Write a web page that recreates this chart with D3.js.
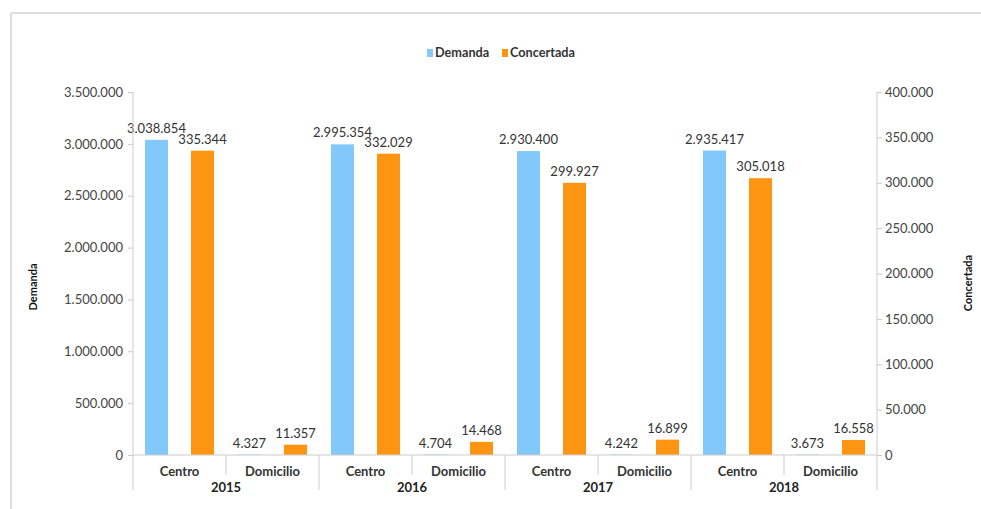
<!DOCTYPE html>
<html><head><meta charset="utf-8">
<script src="https://cdn.jsdelivr.net/npm/d3@7"></script>
<style>
body{margin:0;background:#fff;font-family:Lato, "Open Sans", sans-serif;}
svg{display:block;}
</style></head>
<body><svg id="c" width="981" height="509"></svg>
<script>
const years = ["2015","2016","2017","2018"];
const places = ["Centro","Domicilio"];
const seriesNames = ["Demanda","Concertada"];
const demandaCentro = [3038854, 2995354, 2930400, 2935417];
const demandaDomicilio = [4327, 4704, 4242, 3673];
const concertadaCentro = [335344, 332029, 299927, 305018];
const concertadaDomicilio = [11357, 14468, 16899, 16558];
const leftTicks = [0,500000,1000000,1500000,2000000,2500000,3000000,3500000];
const rightTicks = [0,50000,100000,150000,200000,250000,300000,350000,400000];
const colors = {Demanda:"#82C8FA", Concertada:"#FD9512"};

const fmt = v => d3.format(",")(v).replace(/,/g,".");
const svg = d3.select("#c");
const L = 133, R = 877, T = 92, B = 455, AX_BOTTOM = 490;

// frame
svg.append("line").attr("x1",11).attr("x2",981).attr("y1",13).attr("y2",13).attr("stroke","#dedede").attr("stroke-width",2);
svg.append("line").attr("x1",11).attr("x2",11).attr("y1",13).attr("y2",509).attr("stroke","#dedede").attr("stroke-width",2);

const yL = d3.scaleLinear().domain([0,3500000]).range([B,T]);
const yR = d3.scaleLinear().domain([0,400000]).range([B,T]);
const x0 = d3.scaleBand().domain(years).range([L,R]);
const x1 = d3.scaleBand().domain(places).range([0,x0.bandwidth()]);
const x2 = d3.scaleBand().domain(seriesNames).range([0,x1.bandwidth()]).paddingInner(0.5).paddingOuter(0.26);

const rows = [];
years.forEach((y,i)=>{
  rows.push({year:y, place:"Centro", s:"Demanda", v:demandaCentro[i]});
  rows.push({year:y, place:"Centro", s:"Concertada", v:concertadaCentro[i]});
  rows.push({year:y, place:"Domicilio", s:"Demanda", v:demandaDomicilio[i]});
  rows.push({year:y, place:"Domicilio", s:"Concertada", v:concertadaDomicilio[i]});
});
const yOf = d => d.s==="Demanda" ? yL : yR;
const bx = d => x0(d.year)+x1(d.place)+x2(d.s);

svg.append("g").selectAll("rect").data(rows).join("rect")
  .attr("x", bx).attr("width", x2.bandwidth())
  .attr("y", d=>yOf(d)(d.v)).attr("height", d=>B-yOf(d)(d.v))
  .attr("fill", d=>colors[d.s]);

svg.append("g").selectAll("text").data(rows).join("text")
  .attr("x", d=>bx(d)+x2.bandwidth()/2).attr("y", d=>yOf(d)(d.v)-7)
  .attr("text-anchor","middle").attr("font-size",13).attr("fill","#333")
  .text(d=>fmt(d.v));

// axes
const gl = svg.append("g").attr("transform",`translate(${L},0)`)
  .call(d3.axisLeft(yL).tickValues(leftTicks).tickFormat(fmt).tickSize(5).tickSizeOuter(0));
const gr = svg.append("g").attr("transform",`translate(${R},0)`)
  .call(d3.axisRight(yR).tickValues(rightTicks).tickFormat(fmt).tickSize(5).tickSizeOuter(0));
[gl,gr].forEach(g=>{
  g.select(".domain").remove();
  g.selectAll(".tick line").attr("stroke","#c8c8c8");
  g.selectAll(".tick text").attr("font-size",13).attr("fill","#444").attr("font-family","Lato, sans-serif");
});
gl.selectAll(".tick text").attr("x",-10);
gr.selectAll(".tick text").attr("x",8);

const axisColor = "#cccccc";
svg.append("line").attr("x1",L).attr("x2",L).attr("y1",T).attr("y2",AX_BOTTOM).attr("stroke",axisColor);
svg.append("line").attr("x1",R).attr("x2",R).attr("y1",T).attr("y2",AX_BOTTOM).attr("stroke",axisColor);
svg.append("line").attr("x1",L).attr("x2",R).attr("y1",B).attr("y2",B).attr("stroke",axisColor);

// category separators and labels
years.forEach((y,i)=>{
  if(i>0) svg.append("line").attr("x1",x0(y)).attr("x2",x0(y)).attr("y1",B).attr("y2",AX_BOTTOM).attr("stroke",axisColor);
  svg.append("line").attr("x1",x0(y)+x1("Domicilio")).attr("x2",x0(y)+x1("Domicilio")).attr("y1",B).attr("y2",475).attr("stroke",axisColor);
  places.forEach(p=>{
    svg.append("text").attr("x",x0(y)+x1(p)+x1.bandwidth()/2).attr("y",476)
      .attr("text-anchor","middle").attr("font-size",13).attr("font-weight","bold").attr("fill","#333").text(p);
  });
  svg.append("text").attr("x",x0(y)+x0.bandwidth()/2).attr("y",492)
    .attr("text-anchor","middle").attr("font-size",13).attr("font-weight","bold").attr("fill","#222").text(y);
});

// axis titles
svg.append("text").attr("transform","translate(37,287) rotate(-90)").attr("text-anchor","middle")
  .attr("font-size",11).attr("font-weight","bold").attr("fill","#111").text("Demanda");
svg.append("text").attr("transform","translate(972,283) rotate(-90)").attr("text-anchor","middle")
  .attr("font-size",11).attr("font-weight","bold").attr("fill","#111").text("Concertada");

// legend
const lg = svg.append("g");
const legX = [427, 502];
seriesNames.forEach((s,i)=>{
  lg.append("rect").attr("x",legX[i]).attr("y",49).attr("width",6).attr("height",8).attr("fill",colors[s]);
  lg.append("text").attr("x",legX[i]+8).attr("y",57).attr("font-size",12.7).attr("font-weight","bold").attr("fill","#333").text(s);
});
</script></body></html>
